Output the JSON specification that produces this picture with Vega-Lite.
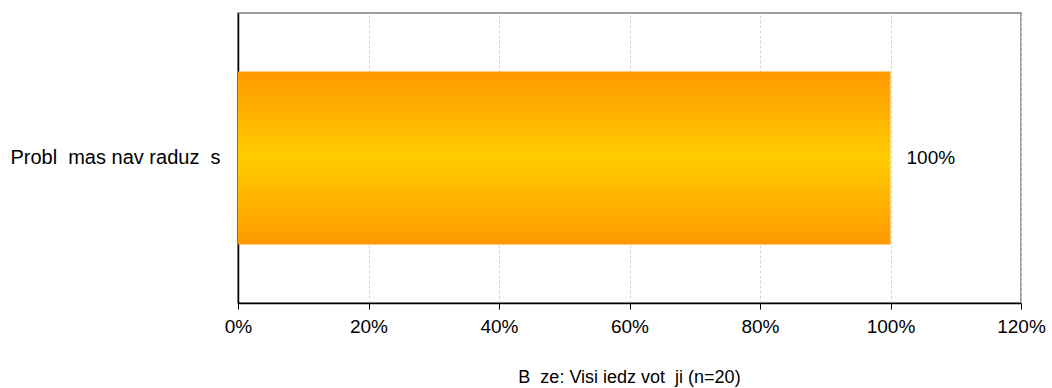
{
  "$schema": "https://vega.github.io/schema/vega-lite/v6.json",
  "autosize": "none",
  "width": 783,
  "height": 290,
  "padding": {"left": 238, "top": 13, "right": 31, "bottom": 85},
  "background": "white",
  "config": {
    "font": "Liberation Sans",
    "view": {"stroke": "#808080", "strokeWidth": 1.5}
  },
  "title": {
    "text": "B\u00a0\u00a0ze: Visi iedz\u00a0vot\u00a0\u00a0ji (n=20)",
    "orient": "bottom",
    "anchor": "middle",
    "fontSize": 18,
    "fontWeight": "normal",
    "color": "#000000",
    "offset": 33
  },
  "data": {"values": [{"category": "Probl\u00a0\u00a0mas nav raduz\u00a0\u00a0s", "value": 1.0}]},
  "encoding": {
    "y": {
      "field": "category",
      "type": "nominal",
      "title": null,
      "axis": {
        "domainColor": "#000000",
        "domainWidth": 1.5,
        "ticks": false,
        "labelFontSize": 20,
        "labelColor": "#000000",
        "labelPadding": 18,
        "labelLimit": 300
      }
    },
    "x": {
      "field": "value",
      "type": "quantitative",
      "title": null,
      "scale": {"domain": [0, 1.2], "nice": false},
      "axis": {
        "format": ".0%",
        "values": [0, 0.2, 0.4, 0.6, 0.8, 1.0, 1.2],
        "domainColor": "#000000",
        "domainWidth": 1.5,
        "tickColor": "#000000",
        "tickSize": 6,
        "labelFontSize": 19,
        "labelColor": "#000000",
        "labelPadding": 8,
        "gridColor": "#d4d4d4",
        "gridDash": [3, 2],
        "labelFlush": false
      }
    }
  },
  "layer": [
    {
      "mark": {
        "type": "bar",
        "size": 173,
        "color": {
          "gradient": "linear",
          "x1": 0, "y1": 0, "x2": 0, "y2": 1,
          "stops": [
            {"offset": 0, "color": "#FF9900"},
            {"offset": 0.5, "color": "#FFCC00"},
            {"offset": 1, "color": "#FF9900"}
          ]
        }
      }
    },
    {
      "mark": {"type": "text", "align": "left", "dx": 16, "fontSize": 19, "color": "#000000"},
      "encoding": {"text": {"field": "value", "type": "quantitative", "format": ".0%"}}
    }
  ]
}
